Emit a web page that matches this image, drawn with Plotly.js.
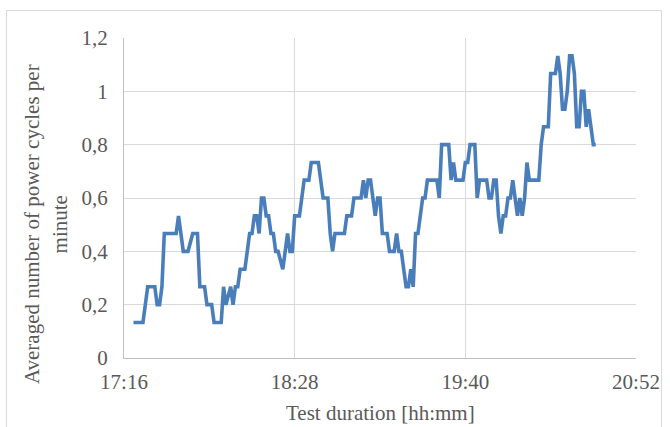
<!DOCTYPE html>
<html>
<head>
<meta charset="utf-8">
<script src="https://cdn.plot.ly/plotly-3.0.1.min.js"></script>
<style>
  html, body { margin: 0; padding: 0; background: #ffffff; }
  #wrap { position: relative; width: 670px; height: 427px; overflow: hidden; }
  #chart { width: 670px; height: 427px; }
  #frame { position: absolute; left: 6px; top: 10px; width: 656px; height: 440px;
           border: 1px solid #d9d9d9; pointer-events: none; box-sizing: border-box; }
</style>
</head>
<body>
<div id="wrap">
  <div id="chart"></div>
  <div id="frame"></div>
</div>
<script>
// Time of day (hh:mm) of each reading
const times = ["17:20","17:24","17:26","17:29","17:30","17:31","17:32","17:33","17:38","17:39",
  "17:40","17:41","17:43","17:45","17:47","17:48","17:50","17:51","17:53","17:54",
  "17:57","17:58","17:59","18:01","18:02","18:03","18:04","18:05","18:07","18:08",
  "18:09","18:10","18:11","18:12","18:13","18:14","18:15","18:16","18:17","18:18",
  "18:19","18:20","18:21","18:23","18:24","18:25","18:26","18:27","18:28","18:30",
  "18:31","18:32","18:34","18:35","18:38","18:39","18:40","18:42","18:43","18:44",
  "18:45","18:49","18:50","18:52","18:53","18:56","18:57","18:58","18:59","19:00",
  "19:01","19:02","19:03","19:04","19:05","19:07","19:08","19:10","19:11","19:12",
  "19:13","19:14","19:15","19:16","19:17","19:18","19:19","19:20","19:21","19:22",
  "19:23","19:24","19:28","19:29","19:30","19:33","19:34","19:35","19:36","19:39",
  "19:40","19:41","19:42","19:44","19:45","19:46","19:49","19:50","19:51","19:52",
  "19:53","19:54","19:55","19:56","19:57","19:58","19:59","20:00","20:01","20:02",
  "20:03","20:04","20:05","20:06","20:07","20:11","20:12","20:13","20:15","20:16",
  "20:18","20:19","20:20","20:21","20:22","20:23","20:24","20:25","20:26","20:27",
  "20:28","20:29","20:30","20:31","20:32","20:33","20:34","20:35"];

// Averaged number of power cycles per minute
const cycles = [0.133,0.133,0.267,0.267,0.2,0.2,0.267,0.467,0.467,0.533,
  0.467,0.4,0.4,0.467,0.467,0.267,0.267,0.2,0.2,0.133,
  0.133,0.267,0.2,0.267,0.2,0.267,0.267,0.333,0.333,0.4,
  0.467,0.467,0.533,0.533,0.467,0.6,0.6,0.533,0.533,0.467,
  0.467,0.4,0.4,0.333,0.4,0.467,0.4,0.4,0.533,0.533,
  0.6,0.667,0.667,0.733,0.733,0.667,0.6,0.6,0.467,0.4,
  0.467,0.467,0.533,0.533,0.6,0.6,0.667,0.6,0.667,0.667,
  0.6,0.533,0.6,0.6,0.467,0.467,0.4,0.4,0.467,0.4,
  0.4,0.333,0.267,0.267,0.333,0.267,0.467,0.467,0.533,0.6,
  0.6,0.667,0.667,0.6,0.8,0.8,0.667,0.733,0.667,0.667,
  0.733,0.733,0.8,0.8,0.6,0.667,0.667,0.6,0.6,0.667,
  0.667,0.533,0.467,0.533,0.533,0.6,0.6,0.667,0.6,0.533,
  0.6,0.533,0.6,0.733,0.667,0.667,0.8,0.867,0.867,1.067,
  1.067,1.133,1.067,0.933,0.933,1,1.133,1.133,1.067,0.867,
  0.867,1,1,0.867,0.933,0.867,0.8,0.8];

const xStart = "17:16";
const xEnd = "20:52";
const xTickStepMinutes = 72;
const yTitle = "Averaged number of power cycles per<br>minute";
const xTitle = "Test duration [hh:mm]";

const day = "2024-01-01 ";
const xs = times.map(t => day + t);

const fontFamily = "'Liberation Serif', 'Times New Roman', serif";
const textColor = "#595959";

const trace = {
  x: xs, y: cycles, type: "scatter", mode: "lines",
  line: { color: "#4a7ebb", width: 3.6 },
  hoverinfo: "skip"
};

const layout = {
  width: 670, height: 427,
  margin: { l: 124, r: 34, t: 38, b: 69 },
  paper_bgcolor: "#ffffff", plot_bgcolor: "#ffffff",
  separators: ", ",
  showlegend: false,
  font: { family: fontFamily, size: 21, color: textColor },
  xaxis: {
    type: "date",
    range: [day + xStart, day + xEnd],
    tick0: day + xStart,
    dtick: xTickStepMinutes * 60000,
    tickformat: "%H:%M",
    showgrid: true, gridcolor: "#d9d9d9", gridwidth: 1,
    showline: true, linecolor: "#bfbfbf", linewidth: 1,
    zeroline: false, ticks: "",
    ticklabelstandoff: 5,
    tickfont: { family: fontFamily, size: 21, color: textColor },
    fixedrange: true
  },
  yaxis: {
    range: [0, 1.2], dtick: 0.2, tick0: 0,
    showgrid: true, gridcolor: "#d9d9d9", gridwidth: 1,
    showline: true, linecolor: "#bfbfbf", linewidth: 1,
    zeroline: false, ticks: "",
    ticklabelstandoff: 11,
    tickfont: { family: fontFamily, size: 21, color: textColor },
    fixedrange: true
  },
  annotations: [
    { text: yTitle, xref: "paper", yref: "paper", x: -0.152, y: 0.419,
      xanchor: "center", yanchor: "middle", textangle: -90, showarrow: false,
      font: { family: fontFamily, size: 21, color: textColor } },
    { text: xTitle, xref: "paper", yref: "paper", x: 0.5, y: -0.172,
      xanchor: "center", yanchor: "middle", showarrow: false,
      font: { family: fontFamily, size: 21, color: textColor } }
  ]
};

Plotly.newPlot("chart", [trace], layout, { displayModeBar: false, staticPlot: true });
</script>
</body>
</html>
